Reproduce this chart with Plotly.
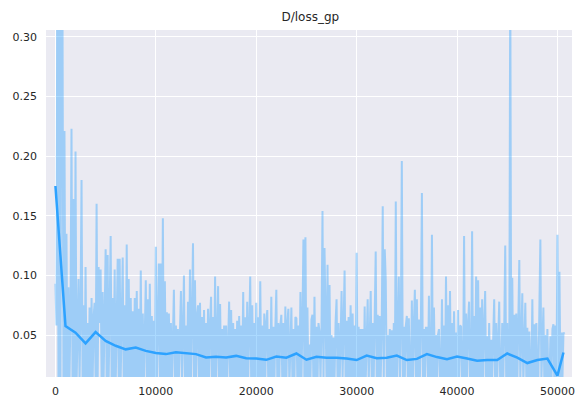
import plotly.graph_objects as go

TITLE = "D/loss_gp"
LOG_INTERVAL = 100

# raw discriminator gradient-penalty loss, one value every 100 steps
raw_values = [
    0.093, 0.058, 0.42, 0.005, 0.61, 0.006, 0.36, 0.33, 0.008, 0.221,
    0.01, 0.135, 0.006, 0.09, 0.012, 0.07, 0.223, 0.008, 0.164, 0.011,
    0.204, 0.006, 0.065, 0.097, 0.01, 0.07, 0.18, 0.013, 0.075, 0.007,
    0.107, 0.01, 0.06, 0.005, 0.073, 0.012, 0.081, 0.006, 0.065, 0.077,
    0.011, 0.16, 0.007, 0.107, 0.06, 0.105, 0.009, 0.086, 0.013, 0.07,
    0.122, 0.008, 0.117, 0.012, 0.065, 0.133, 0.005, 0.081, 0.01, 0.105,
    0.007, 0.07, 0.114, 0.011, 0.114, 0.013, 0.068, 0.115, 0.006, 0.075,
    0.012, 0.126, 0.008, 0.097, 0.01, 0.081, 0.014, 0.07, 0.006, 0.081,
    0.013, 0.087, 0.006, 0.072, 0.01, 0.104, 0.012, 0.068, 0.007, 0.075,
    0.096, 0.008, 0.08, 0.013, 0.093, 0.009, 0.066, 0.005, 0.062, 0.011,
    0.124, 0.007, 0.07, 0.11, 0.01, 0.11, 0.013, 0.148, 0.006, 0.095,
    0.01, 0.069, 0.005, 0.068, 0.013, 0.06, 0.008, 0.058, 0.088, 0.011,
    0.058, 0.007, 0.055, 0.014, 0.06, 0.087, 0.009, 0.058, 0.1, 0.005,
    0.058, 0.011, 0.078, 0.013, 0.105, 0.007, 0.06, 0.127, 0.01, 0.096,
    0.009, 0.066, 0.075, 0.006, 0.077, 0.013, 0.065, 0.01, 0.071, 0.007,
    0.06, 0.014, 0.072, 0.005, 0.06, 0.082, 0.01, 0.065, 0.013, 0.099,
    0.007, 0.06, 0.091, 0.011, 0.076, 0.014, 0.055, 0.006, 0.058, 0.01,
    0.058, 0.008, 0.055, 0.078, 0.012, 0.071, 0.013, 0.06, 0.005, 0.055,
    0.012, 0.062, 0.007, 0.066, 0.011, 0.058, 0.014, 0.086, 0.008, 0.065,
    0.01, 0.078, 0.013, 0.06, 0.099, 0.006, 0.075, 0.011, 0.06, 0.014,
    0.077, 0.007, 0.065, 0.012, 0.095, 0.014, 0.058, 0.005, 0.068, 0.01,
    0.06, 0.071, 0.008, 0.055, 0.013, 0.082, 0.011, 0.057, 0.006, 0.055,
    0.088, 0.01, 0.06, 0.014, 0.058, 0.067, 0.007, 0.06, 0.012, 0.074,
    0.009, 0.06, 0.072, 0.006, 0.058, 0.073, 0.013, 0.055, 0.01, 0.065,
    0.064, 0.007, 0.058, 0.014, 0.086, 0.011, 0.06, 0.13, 0.006, 0.132,
    0.013, 0.073, 0.008, 0.042, 0.012, 0.063, 0.067, 0.005, 0.082, 0.01,
    0.057, 0.007, 0.06, 0.053, 0.011, 0.055, 0.154, 0.008, 0.123, 0.082,
    0.012, 0.109, 0.014, 0.092, 0.006, 0.05, 0.01, 0.048, 0.013, 0.06,
    0.08, 0.009, 0.06, 0.005, 0.065, 0.087, 0.013, 0.06, 0.104, 0.007,
    0.062, 0.011, 0.065, 0.014, 0.075, 0.006, 0.068, 0.01, 0.058, 0.013,
    0.119, 0.007, 0.057, 0.012, 0.055, 0.014, 0.055, 0.005, 0.074, 0.01,
    0.058, 0.08, 0.008, 0.065, 0.087, 0.011, 0.06, 0.013, 0.075, 0.12,
    0.006, 0.067, 0.012, 0.066, 0.014, 0.058, 0.158, 0.008, 0.122, 0.096,
    0.011, 0.05, 0.006, 0.055, 0.013, 0.054, 0.009, 0.06, 0.012, 0.162,
    0.007, 0.06, 0.099, 0.005, 0.058, 0.196, 0.011, 0.057, 0.014, 0.058,
    0.066, 0.008, 0.064, 0.012, 0.013, 0.079, 0.006, 0.06, 0.088, 0.01,
    0.08, 0.007, 0.063, 0.013, 0.06, 0.169, 0.005, 0.055, 0.012, 0.056,
    0.056, 0.01, 0.083, 0.006, 0.014, 0.134, 0.008, 0.073, 0.011, 0.05,
    0.007, 0.05, 0.055, 0.012, 0.014, 0.08, 0.006, 0.058, 0.01, 0.099,
    0.008, 0.075, 0.013, 0.087, 0.011, 0.06, 0.005, 0.07, 0.012, 0.052,
    0.014, 0.071, 0.007, 0.058, 0.057, 0.01, 0.013, 0.133, 0.006, 0.068,
    0.011, 0.06, 0.078, 0.008, 0.014, 0.137, 0.01, 0.066, 0.005, 0.099,
    0.012, 0.096, 0.007, 0.073, 0.013, 0.08, 0.009, 0.058, 0.087, 0.006,
    0.049, 0.011, 0.06, 0.008, 0.046, 0.014, 0.058, 0.08, 0.005, 0.06,
    0.012, 0.055, 0.078, 0.007, 0.013, 0.06, 0.01, 0.055, 0.125, 0.006,
    0.06, 0.011, 0.014, 0.36, 0.007, 0.098, 0.012, 0.067, 0.013, 0.068,
    0.006, 0.06, 0.113, 0.01, 0.058, 0.085, 0.008, 0.06, 0.077, 0.012,
    0.056, 0.007, 0.053, 0.014, 0.011, 0.08, 0.006, 0.059, 0.013, 0.06,
    0.008, 0.014, 0.093, 0.13, 0.011, 0.055, 0.073, 0.006, 0.05, 0.013,
    0.055, 0.007, 0.012, 0.049, 0.01, 0.055, 0.059, 0.005, 0.058, 0.011,
    0.134, 0.008, 0.103, 0.012, 0.052, 0.014, 0.052, 0.051,
]
raw_steps = [i * LOG_INTERVAL for i in range(len(raw_values))]

# smoothed curve
smooth_steps = [
    0, 1000, 2000, 3000, 4000, 5000, 6000, 7000, 8000, 9000,
    10000, 11000, 12000, 13000, 14000, 15000, 16000, 17000, 18000, 19000,
    20000, 21000, 22000, 23000, 24000, 25000, 26000, 27000, 28000, 29000,
    30000, 31000, 32000, 33000, 34000, 35000, 36000, 37000, 38000, 39000,
    40000, 41000, 42000, 43000, 44000, 45000, 46000, 47000, 48000, 49000,
    50000, 50600,
]
smooth_values = [
    0.175, 0.0575, 0.052, 0.043, 0.0525, 0.045, 0.041, 0.038, 0.0395, 0.0367,
    0.035, 0.034, 0.0355, 0.0345, 0.034, 0.0312, 0.0318, 0.0312, 0.0325, 0.0306,
    0.0303, 0.0292, 0.032, 0.031, 0.0345, 0.0293, 0.0318, 0.031, 0.031, 0.0303,
    0.029, 0.0328, 0.0306, 0.031, 0.0328, 0.029, 0.030, 0.034, 0.0315, 0.0297,
    0.032, 0.0303, 0.0284, 0.029, 0.029, 0.0345, 0.031, 0.0265, 0.029, 0.0303,
    0.016, 0.0353,
]

x_ticks = [0, 10000, 20000, 30000, 40000, 50000]
x_tick_labels = ["0", "10000", "20000", "30000", "40000", "50000"]
y_ticks = [0.05, 0.10, 0.15, 0.20, 0.25, 0.30]
y_tick_labels = ["0.05", "0.10", "0.15", "0.20", "0.25", "0.30"]

fig = go.Figure()
fig.add_trace(go.Scatter(
    x=raw_steps, y=raw_values, mode="lines",
    line=dict(color="rgba(45,162,255,0.4)", width=2),
    showlegend=False, hoverinfo="skip",
))
fig.add_trace(go.Scatter(
    x=smooth_steps, y=smooth_values, mode="lines",
    line=dict(color="rgb(45,162,255)", width=2.5),
    showlegend=False,
))

font = dict(family="DejaVu Sans", size=11, color="#262626")
fig.update_layout(
    width=579, height=402,
    margin=dict(l=46, r=4, t=30, b=22),
    paper_bgcolor="white",
    plot_bgcolor="#EAEAF2",
    font=font,
    title=dict(text=TITLE, x=0.536, xanchor="center", y=1 - 17 / 402,
               yanchor="middle", font=dict(family="DejaVu Sans", size=12, color="#262626")),
)
fig.update_xaxes(
    range=[-940, 51450], tickvals=x_ticks, ticktext=x_tick_labels,
    showgrid=True, gridcolor="white", gridwidth=1.3, zeroline=False,
    showline=False, ticks="", ticklabelstandoff=6,
)
fig.update_yaxes(
    range=[0.0148, 0.3058], tickvals=y_ticks, ticktext=y_tick_labels,
    showgrid=True, gridcolor="white", gridwidth=1.3, zeroline=False,
    showline=False, ticks="", ticklabelstandoff=8,
)

fig.write_html(
    "out.html",
    config={"displayModeBar": False},
    post_script="document.body.style.margin='0px';document.body.style.padding='0px';",
)
